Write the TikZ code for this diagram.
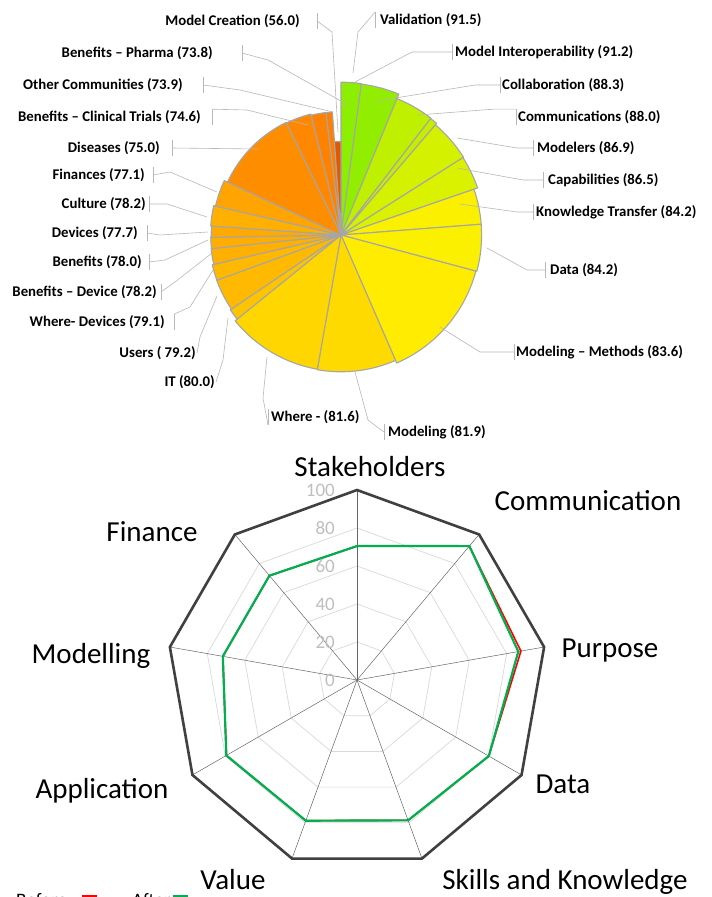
\documentclass[tikz,border=0pt]{standalone}
\usepackage{fontspec}
\setmainfont{Carlito}
\usetikzlibrary{calc}
\definecolor{afterg}{RGB}{0,176,80}
\tikzset{
	slice/.style = {draw=gray!70, line width=1.1pt, line join=round},
	leader/.style = {draw=black!28, line width=0.6pt},
	pielabel/.style = {font=\bfseries\fontsize{14.8}{16}\selectfont, inner xsep=3pt, inner ysep=1pt},
	leftlabel/.style = {pielabel, anchor=east},
	rightlabel/.style = {pielabel, anchor=west},
	axislabel/.style = {font=\fontsize{29}{32}\selectfont, inner sep=0pt, anchor=base},
	ticklabel/.style = {font=\fontsize{19}{20}\selectfont, text=gray!50, anchor=east, inner sep=0pt},
	legendtext/.style = {font=\fontsize{19}{20}\selectfont, inner sep=0pt, anchor=base west},
	gridring/.style = {draw=black!15, line width=0.7pt},
	spoke/.style = {draw=black!60, line width=0.5pt},
	rimring/.style = {draw=black!75, line width=2.6pt, line join=miter},
	beforeline/.style = {draw=red, line width=1.6pt},
	afterline/.style = {draw=afterg, line width=2.2pt}
}

\begin{document}
\begin{tikzpicture}[x=1pt,y=-1pt]
	\fill[white] (0,0) rectangle (712,897);
	\useasboundingbox (0,0) rectangle (712,897);

	% polar area chart
	\coordinate (pc) at (341,235);
	\foreach \a/\b/\v/\rr/\gg in {
		0/7.7/91.5/140/238, 7.7/22.3/91.2/146/238, 22.3/37.6/88.3/190/240, 37.6/40.6/88.0/196/240,
		40.6/57.6/86.9/212/242, 57.6/71/86.5/218/242, 71/85.6/84.2/250/240, 85.6/105/84.2/250/240,
		105/156.5/83.6/255/236, 156.5/190/81.9/255/218, 190/231/81.6/255/214, 231/236/80.0/255/196,
		236/250/79.2/255/186, 250/257/79.1/255/185, 257/264/78.2/255/176, 264/269/78.0/255/173,
		269/274/77.7/255/170, 274/283/78.2/255/176, 283/295/77.1/255/164, 295/334/75.0/255/141,
		334/346/74.6/255/136, 346/353/73.9/255/129, 353/356/73.8/255/128, 356/360/56.0/228/88}{
		\definecolor{slc}{RGB}{\rr,\gg,0}
		\draw[slice, fill=slc] (pc) -- ++(\a-90:1.67*\v) arc (\a-90:\b-90:1.67*\v) -- cycle;
	}

	% points the leaders end at
	\coordinate (pValid) at (353,73);
	\coordinate (pInterop) at (355,82);
	\coordinate (pCollab) at (377,101);
	\coordinate (pComm) at (418,115);
	\coordinate (pModelers) at (457,138);
	\coordinate (pCapab) at (457,168);
	\coordinate (pKnow) at (460,204);
	\coordinate (pData) at (487,248);
	\coordinate (pMethods) at (440,327);
	\coordinate (pModeling) at (355,372);
	\coordinate (pWhere) at (267,357);
	\coordinate (pIT) at (228,318);
	\coordinate (pUsers) at (217,296);
	\coordinate (pWhereDev) at (213,270);
	\coordinate (pBenDevice) at (212,253);
	\coordinate (pBenefits) at (208,240);
	\coordinate (pDevices) at (208,232);
	\coordinate (pCulture) at (207,217);
	\coordinate (pFinances) at (217,192);
	\coordinate (pDiseases) at (258,149);
	\coordinate (pTrials) at (308,125);
	\coordinate (pOther) at (333,112);
	\coordinate (pPharma) at (348,105);
	\coordinate (pCreation) at (338,132);

	% labels right
	\node[rightlabel, inner xsep=5pt] (lValid) at (375,20) {Validation (91.5)};
	\node[rightlabel] (lInterop) at (452,52) {Model Interoperability (91.2)};
	\node[rightlabel, inner xsep=2pt] (lCollab) at (500,85) {Collaboration (88.3)};
	\node[rightlabel, inner xsep=2pt] (lComm) at (516,117) {Communications (88.0)};
	\node[rightlabel, inner xsep=4pt] (lModelers) at (533,148) {Modelers (86.9)};
	\node[rightlabel, inner xsep=5pt] (lCapab) at (543,180) {Capabilities (86.5)};
	\node[rightlabel] (lKnow) at (533,212) {Knowledge Transfer (84.2)};
	\node[rightlabel, inner xsep=5pt] (lData) at (545,270) {Data (84.2)};
	\node[rightlabel, inner xsep=2pt] (lMethods) at (514,352) {Modeling – Methods (83.6)};
	\node[rightlabel, inner xsep=4pt] (lModeling) at (384,432) {Modeling (81.9)};
	\node[rightlabel] (lWhere) at (268,417) {Where - (81.6)};
	% labels left
	\node[leftlabel, inner xsep=17pt] (lCreation) at (317,21) {Model Creation (56.0)};
	\node[leftlabel, inner xsep=29pt] (lPharma) at (242,53) {Benefits – Pharma (73.8)};
	\node[leftlabel, inner xsep=20pt] (lOther) at (203,85) {Other Communities (73.9)};
	\node[leftlabel, inner xsep=11pt] (lTrials) at (212,117) {Benefits – Clinical Trials (74.6)};
	\node[leftlabel, inner xsep=12pt] (lDiseases) at (172,148) {Diseases (75.0)};
	\node[leftlabel, inner xsep=8pt] (lFinances) at (153,175) {Finances (77.1)};
	\node[leftlabel] (lCulture) at (149,204) {Culture (78.2)};
	\node[leftlabel, inner xsep=9pt] (lDevices) at (147,233) {Devices (77.7)};
	\node[leftlabel, inner xsep=7pt] (lBenefits) at (149,262) {Benefits (78.0)};
	\node[leftlabel, inner xsep=4pt] (lBenDevice) at (161,292) {Benefits – Device (78.2)};
	\node[leftlabel, inner xsep=9pt] (lWhereDev) at (174,322) {Where- Devices (79.1)};
	\node[leftlabel, inner xsep=1pt] (lUsers) at (197,353) {Users ( 79.2)};
	\node[leftlabel, inner xsep=1pt] (lIT) at (216,382) {IT (80.0)};

	% label ticks
	\foreach \n in {lValid,lInterop,lCollab,lComm,lModelers,lCapab,lKnow,lData,lMethods,lModeling,lWhere}
		\draw[leader] (\n.north west) -- (\n.south west);
	\foreach \n in {lCreation,lPharma,lOther,lTrials,lDiseases,lFinances,lCulture,lDevices,lBenefits,lBenDevice,lWhereDev}
		\draw[leader] (\n.north east) -- (\n.south east);

	% leaders
	\draw[leader] (lValid.north west) -- (358,32) -- (pValid);
	\draw[leader] (lInterop.west) -- ++(-40,0) -- (pInterop);
	\draw[leader] (lCollab.west) -- ++(-25,0) -- (pCollab);
	\draw[leader] (lComm.north west) -- ++(-23,0) -- (pComm);
	\draw[leader] (lModelers.west) -- ++(-16,0) -- (pModelers);
	\draw[leader] (lCapab.west) -- ++(-20,0) -- (pCapab);
	\draw[leader] (lKnow.west) -- ++(-16,0) -- (pKnow);
	\draw[leader] (lData.west) -- ++(-18,0) -- (pData);
	\draw[leader] (lMethods.west) -- ++(-34,0) -- (pMethods);
	\draw[leader] (lModeling.west) -- (368,420) -- (pModeling);
	\draw[leader] (lWhere.south west) -- (263,398) -- (pWhere);
	\draw[leader] (lIT.east) -- (223,360) -- (pIT);
	\draw[leader] (lUsers.east) -- (200,337) -- (pUsers);
	\draw[leader] (lWhereDev.north east) -- (190,307) -- (pWhereDev);
	\draw[leader] (lBenDevice.east) -- (175,282) -- (pBenDevice);
	\draw[leader] (lBenefits.east) -- (165,260) -- (pBenefits);
	\draw[leader] (lDevices.east) -- (160,235) -- (pDevices);
	\draw[leader] (lCulture.east) -- (167,204) -- (pCulture);
	\draw[leader] (lFinances.east) -- (170,172) -- (pFinances);
	\draw[leader] (lDiseases.east) -- (pDiseases);
	\draw[leader] (lTrials.north east) -- (247,110) -- (pTrials);
	\draw[leader] (lOther.east) -- (240,90) -- (pOther);
	\draw[leader] (lPharma.east) -- (268,60) -- (pPharma);
	\draw[leader] (lCreation.east) -- (332,32) -- (pCreation);

	% radar chart
	\coordinate (rc) at (357,680);
	\begin{scope}[shift={(rc)}]
		\foreach \k in {0,...,8}
			\coordinate (v\k) at (40*\k-90:190);
		\foreach \lv in {20,40,60,80}
			\draw[gridring] (-90:1.9*\lv) -- (-50:1.9*\lv) -- (-10:1.9*\lv) -- (30:1.9*\lv) -- (70:1.9*\lv)
				-- (110:1.9*\lv) -- (150:1.9*\lv) -- (190:1.9*\lv) -- (230:1.9*\lv) -- cycle;
		\foreach \k in {0,...,8}
			\draw[spoke] (rc) -- (v\k);
		\draw[rimring] (v0) -- (v1) -- (v2) -- (v3) -- (v4) -- (v5) -- (v6) -- (v7) -- (v8) -- cycle;
		\draw[beforeline] (-90:1.9*70.5) -- (-50:1.9*92) -- (-10:1.9*87.6) -- (30:1.9*80.1) -- (70:1.9*78.6)
			-- (110:1.9*78.8) -- (150:1.9*79.4) -- (190:1.9*71.7) -- (230:1.9*71.7) -- cycle;
		\draw[afterline] (-90:1.9*70.5) -- (-50:1.9*92) -- (-10:1.9*86.2) -- (30:1.9*80.1) -- (70:1.9*78.6)
			-- (110:1.9*78.8) -- (150:1.9*79.4) -- (190:1.9*71.7) -- (230:1.9*71.7) -- cycle;
	\end{scope}
	\foreach \lv in {0,20,...,100}
		\node[ticklabel] (t\lv) at (335,{680-1.9*\lv}) {\lv};

	\node[axislabel] (aStake) at (370,476) {Stakeholders};
	\node[axislabel] (aComm) at (588,510) {Communication};
	\node[axislabel] (aPurpose) at (610,657) {Purpose};
	\node[axislabel] (aData) at (563,793) {Data};
	\node[axislabel] (aSkills) at (565,889) {Skills and Knowledge};
	\node[axislabel] (aValue) at (233,889) {Value};
	\node[axislabel] (aAppl) at (102,798) {Application};
	\node[axislabel] (aModel) at (91,663) {Modelling};
	\node[axislabel] (aFinance) at (152,541) {Finance};

	% legend, cut by the lower edge
	\node[legendtext] (lgBefore) at (16,906) {Before};
	\draw[beforeline] (82,896) -- (97,896);
	\node[legendtext] (lgAfter) at (132,906) {After};
	\draw[afterline] (173,896) -- (188,896);
\end{tikzpicture}
\end{document}
